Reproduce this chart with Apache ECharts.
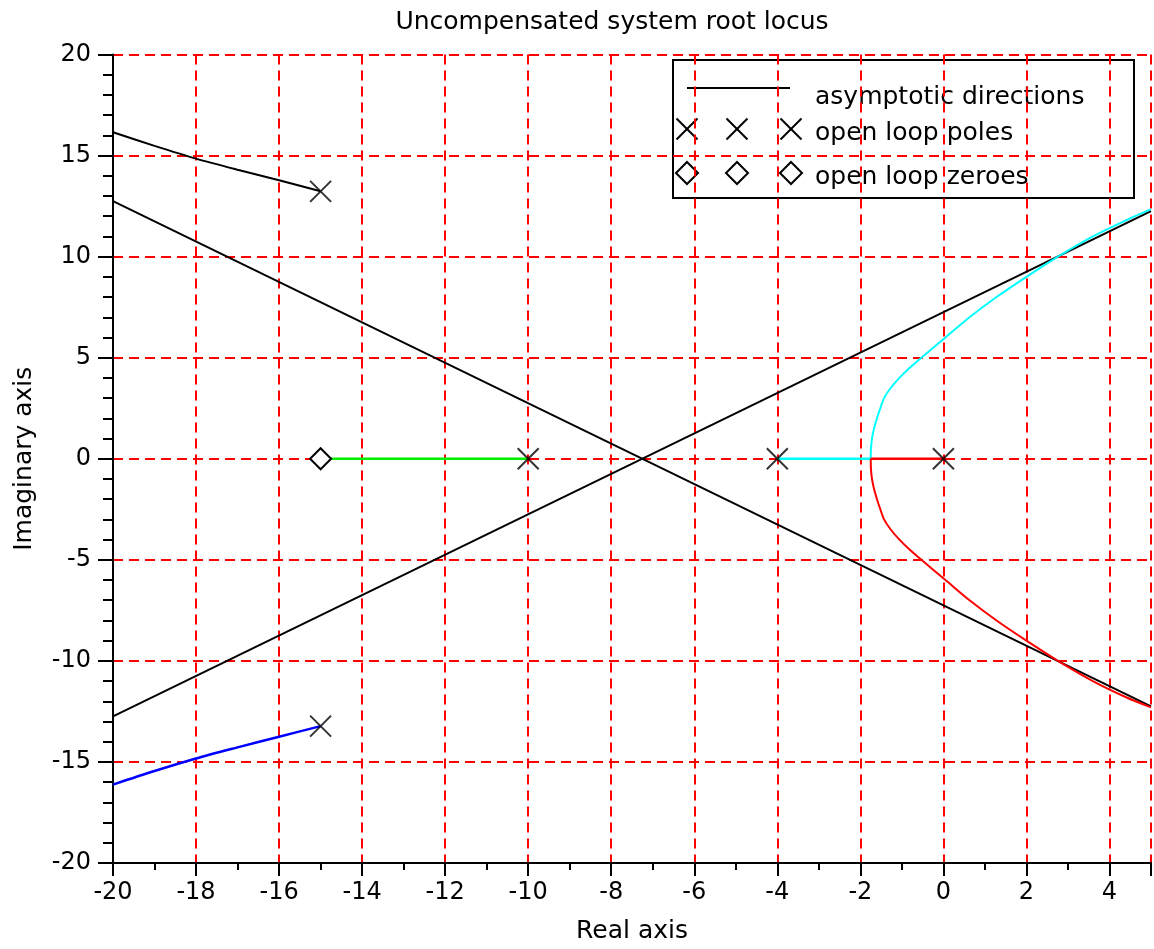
<!DOCTYPE html>
<html>
<head>
<meta charset="utf-8">
<script src="https://cdn.jsdelivr.net/npm/echarts@6/dist/echarts.min.js"></script>
<style>
html,body{margin:0;padding:0;background:#fff;}
#chart{width:1154px;height:949px;}
</style>
</head>
<body>
<div id="chart"></div>
<script>
// ---- data ----
const titleText = 'Uncompensated system root locus';
const xName = 'Real axis';
const yName = 'Imaginary axis';
const legendLabels = ['asymptotic directions', 'open loop poles', 'open loop zeroes'];

const asymptoteA = [[-20, 12.75], [5, -12.25]];
const asymptoteB = [[-20, -12.75], [5, 12.25]];

const branchRedReal = [[0, 0], [-1.75, 0]];
const branchRed = [[-1.75, 0], [-1.745, -0.5], [-1.72, -1], [-1.67, -1.5], [-1.6, -2], [-1.52, -2.5], [-1.43, -3], [-1.27, -3.5], [-1.06, -4], [-0.81, -4.5], [-0.53, -5], [-0.24, -5.5], [0.05, -6], [0.63, -7], [1.28, -8], [2.0, -9], [2.76, -10], [3.6, -11], [4.4, -11.8], [5, -12.3]];
const branchCyanReal = [[-4, 0], [-1.75, 0]];
const branchCyan = [[-1.75, 0], [-1.745, 0.5], [-1.72, 1], [-1.67, 1.5], [-1.6, 2], [-1.52, 2.5], [-1.43, 3], [-1.27, 3.5], [-1.06, 4], [-0.81, 4.5], [-0.53, 5], [-0.24, 5.5], [0.05, 6], [0.63, 7], [1.28, 8], [2.0, 9], [2.76, 10], [3.6, 11], [4.4, 11.8], [5, 12.35]];
const branchGreen = [[-15, 0], [-10, 0]];
const branchBlack = [[-15, 13.23], [-16, 13.78], [-17, 14.3], [-18, 14.85], [-19, 15.48], [-20, 16.15]];
const branchBlue = [[-15, -13.23], [-16, -13.75], [-17, -14.28], [-18, -14.83], [-19, -15.45], [-20, -16.12]];

const poles = [[0, 0], [-4, 0], [-10, 0], [-15, 13.23], [-15, -13.23]];
const zeroes = [[-15, 0]];

const xMin = -20, xMax = 5, xStep = 2;
const yMin = -20, yMax = 20, yStep = 5;

// ---- chart ----
const FONT = 'DejaVu Sans';
const chart = echarts.init(document.getElementById('chart'), null, {renderer: 'canvas'});
const X_PATH = 'path://M0,0L10,10M10,0L0,10';

function lineSeries(name, data, color, width, smooth) {
  return {
    name: name, type: 'line', data: data, showSymbol: false, symbol: 'none', smooth: smooth || false,
    lineStyle: {color: color, width: width}, z: 4, animation: false, silent: true, clip: true
  };
}

const gridDash = {color: '#ff0000', width: 2, type: [10, 6]};

// legend drawn as graphics (Scilab-style legend with three markers per row)
const LX = 673, LY = 60, LW = 461, LH = 138;
const LFONT = '25px "' + FONT + '"';
function xMark(cx, cy, s) {
  return [
    {type: 'line', shape: {x1: cx - s, y1: cy - s, x2: cx + s, y2: cy + s}, style: {stroke: '#000', lineWidth: 2}},
    {type: 'line', shape: {x1: cx - s, y1: cy + s, x2: cx + s, y2: cy - s}, style: {stroke: '#000', lineWidth: 2}}
  ];
}
function diamond(cx, cy, s) {
  return {type: 'polygon', shape: {points: [[cx, cy - s], [cx + s, cy], [cx, cy + s], [cx - s, cy]]}, style: {fill: '#fff', stroke: '#000', lineWidth: 2}};
}
const legendChildren = [
  {type: 'rect', shape: {x: LX, y: LY, width: LW, height: LH}, style: {fill: '#fff', stroke: '#000', lineWidth: 2}},
  {type: 'line', shape: {x1: 687, y1: 88, x2: 790, y2: 88}, style: {stroke: '#000', lineWidth: 2}},
  {type: 'text', style: {x: 815, y: 97, text: legendLabels[0], font: LFONT, fill: '#000', verticalAlign: 'middle'}},
  {type: 'text', style: {x: 815, y: 133, text: legendLabels[1], font: LFONT, fill: '#000', verticalAlign: 'middle'}},
  {type: 'text', style: {x: 815, y: 177, text: legendLabels[2], font: LFONT, fill: '#000', verticalAlign: 'middle'}}
];
[687, 737, 791].forEach(function (cx) {
  xMark(cx, 129, 10.5).forEach(function (e) { legendChildren.push(e); });
  legendChildren.push(diamond(cx, 173, 11));
});

const option = {
  backgroundColor: '#fff',
  animation: false,
  title: {
    text: titleText, left: 607, top: 5, textAlign: 'center',
    textStyle: {fontFamily: FONT, fontSize: 25, fontWeight: 'normal', color: '#000'}
  },
  grid: {left: 113, right: 3, top: 54.5, bottom: 85, containLabel: false},
  xAxis: {
    type: 'value', min: xMin, max: xMax, interval: xStep,
    name: xName, nameLocation: 'middle', nameGap: 56,
    nameTextStyle: {fontFamily: FONT, fontSize: 25, color: '#000'},
    axisLine: {show: true, onZero: false, lineStyle: {color: '#000', width: 2}},
    axisTick: {show: true, length: 13, lineStyle: {color: '#000', width: 2}},
    minorTick: {show: true, splitNumber: 2, length: 7, lineStyle: {color: '#000', width: 2}},
    axisLabel: {fontFamily: FONT, fontSize: 24, color: '#000', margin: 18, showMaxLabel: false},
    splitLine: {show: true, lineStyle: gridDash},
    z: 0
  },
  yAxis: {
    type: 'value', min: yMin, max: yMax, interval: yStep,
    name: yName, nameLocation: 'middle', nameGap: 76,
    nameTextStyle: {fontFamily: FONT, fontSize: 25, color: '#000'},
    axisLine: {show: true, onZero: false, lineStyle: {color: '#000', width: 2}},
    axisTick: {show: true, length: 15, lineStyle: {color: '#000', width: 2}},
    minorTick: {show: true, splitNumber: 5, length: 10, lineStyle: {color: '#000', width: 2}},
    axisLabel: {fontFamily: FONT, fontSize: 24, color: '#000', margin: 22},
    splitLine: {show: true, lineStyle: gridDash},
    z: 0
  },
  series: [
    lineSeries('asymptote A', asymptoteA, '#000000', 2),
    lineSeries('asymptote B', asymptoteB, '#000000', 2),
    lineSeries('branch green', branchGreen, '#00ee00', 2.5),
    lineSeries('branch cyan real', branchCyanReal, '#00ffff', 2.5),
    lineSeries('branch cyan', branchCyan, '#00ffff', 2, 0.3),
    lineSeries('branch red real', branchRedReal, '#ff0000', 2.5),
    lineSeries('branch red', branchRed, '#ff0000', 2, 0.3),
    lineSeries('branch black', branchBlack, '#000000', 2, 0.3),
    lineSeries('branch blue', branchBlue, '#0000ff', 2.5, 0.3),
    {
      name: legendLabels[1], type: 'scatter', data: poles, symbol: X_PATH, symbolSize: 21,
      itemStyle: {color: 'none', borderColor: '#000', borderWidth: 2}, z: 6, silent: true
    },
    {
      name: legendLabels[2], type: 'scatter', data: zeroes, symbol: 'diamond', symbolSize: 21,
      itemStyle: {color: '#fff', borderColor: '#000', borderWidth: 2, opacity: 1}, z: 6, silent: true
    }
  ],
  graphic: [{type: 'group', z: 100, children: legendChildren}]
};
chart.setOption(option);
</script>
</body>
</html>
